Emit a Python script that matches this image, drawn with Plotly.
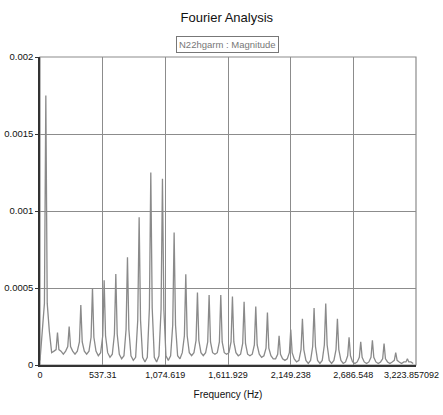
import plotly.graph_objects as go

# Harmonic peak frequencies (Hz) and magnitudes
peak_freq = [50, 150, 250, 350, 450, 550, 650, 750, 850, 950, 1050, 1150, 1250, 1350,
             1450, 1550, 1650, 1750, 1850, 1950, 2050, 2150, 2250, 2350, 2450, 2550,
             2650, 2750, 2850, 2950, 3050, 3150]
peak_mag = [0.00175, 0.00021, 0.00025, 0.00039, 0.00050, 0.00055, 0.00059, 0.00070,
            0.00096, 0.00125, 0.00121, 0.00086, 0.00059, 0.00047, 0.000455, 0.000455,
            0.000445, 0.00041, 0.00038, 0.00034, 0.00019, 0.00023, 0.00030, 0.00037,
            0.00040, 0.00030, 0.00018, 0.00015, 0.00016, 0.00014, 0.00008, 0.00004]
# magnitude at the shoulders of each peak (about 12 Hz either side)
shoulder_mag = [0.00040, 0.00010, 0.00012, 0.00015, 0.00018, 0.00019, 0.00020, 0.00023,
                0.00029, 0.00037, 0.00036, 0.00026, 0.00019, 0.00016, 0.00015, 0.00015,
                0.00015, 0.00014, 0.00013, 0.00011, 0.00007, 0.00008, 0.00010, 0.00012,
                0.00013, 0.00010, 0.00006, 0.00005, 0.00005, 0.00004, 0.00003, 0.00002]
# magnitude at the foot of each peak (about 30 Hz either side)
foot_mag = [0.00022, 0.00009, 0.00009, 0.00009, 0.00009, 0.00008, 0.00007, 0.00006,
            0.00005, 0.00005, 0.00006, 0.00006, 0.00008, 0.00008, 0.00008, 0.00008,
            0.00008, 0.00007, 0.00007, 0.00006, 0.00004, 0.00004, 0.00003, 0.00003,
            0.00003, 0.00003, 0.00002, 0.00002, 0.00002, 0.00002, 0.00002, 0.00002]
# magnitude of the valley following each peak (midway to next harmonic)
valley_mag = [0.00008, 0.00007, 0.00007, 0.00007, 0.00006, 0.00005, 0.00004, 0.00003,
              0.00002, 0.00002, 0.00003, 0.00004, 0.00006, 0.00006, 0.00007, 0.00007,
              0.00006, 0.00006, 0.00005, 0.00004, 0.00003, 0.00002, 0.00001, 0.00001,
              0.00001, 0.00001, 0.00001, 0.00001, 0.00001, 0.00001, 0.00001, 0.00001]
start_mag = 0.00003

x_tickvals = [0, 537.31, 1074.619, 1611.929, 2149.238, 2686.548, 3223.857092]
x_ticktext = ["0", "537.31", "1,074.619", "1,611.929", "2,149.238", "2,686.548", "3,223.857092"]
y_tickvals = [0, 0.0005, 0.001, 0.0015, 0.002]
y_ticktext = ["0", "0.0005", "0.001", "0.0015", "0.002"]

xs = [0]
ys = [start_mag]
for i, (f, p, s, ft, v) in enumerate(zip(peak_freq, peak_mag, shoulder_mag, foot_mag, valley_mag)):
    if i > 0:
        xs.append(f - 30)
        ys.append(ft)
    xs += [f - 12, f, f + 12, f + 30, min(f + 50, x_tickvals[-1])]
    ys += [s, p, s, ft, v]

fig = go.Figure()
fig.add_trace(go.Scatter(x=xs, y=ys, mode="lines",
                         line=dict(color="#8a8a8a", width=1.3), showlegend=False,
                         hoverinfo="skip"))

font = "Liberation Sans, Arial, sans-serif"
# last tick label is drawn right-aligned to the page edge (as in the reference)
shown_ticktext = x_ticktext[:-1] + [""]
fig.update_layout(
    width=443, height=415,
    margin=dict(l=40, r=27, t=57, b=50),
    paper_bgcolor="white", plot_bgcolor="white",
    title=dict(text="Fourier Analysis", x=0.512, xanchor="center", y=0.957, yanchor="middle",
               font=dict(family=font, size=13, color="#111")),
    font=dict(family=font, size=10, color="#111"),
    xaxis=dict(range=[0, 3223.857092], tickmode="array", tickvals=x_tickvals,
               ticktext=shown_ticktext, showgrid=True, gridcolor="#8c8c8c", gridwidth=1.2,
               showline=True, linecolor="#333", linewidth=1.5, mirror=False,
               ticks="", zeroline=False, automargin=False,
               title=dict(text="Frequency (Hz)", font=dict(family=font, size=10, color="#111"),
                          standoff=12),
               tickfont=dict(family=font, size=9, color="#111")),
    yaxis=dict(range=[0, 0.002], tickmode="array", tickvals=y_tickvals,
               ticktext=y_ticktext, showgrid=True, gridcolor="#8c8c8c", gridwidth=1.2,
               showline=True, linecolor="#333", linewidth=1.5, automargin=False,
               ticks="outside", ticklen=3, tickcolor="#333", zeroline=False,
               tickfont=dict(family=font, size=9.5, color="#111")),
    annotations=[
        dict(text="N22hgarm : Magnitude", xref="paper", yref="paper",
             x=0.498, y=1.0, xanchor="center", yanchor="bottom", yshift=4,
             showarrow=False, font=dict(family=font, size=9.5, color="#777"),
             bordercolor="#777", borderwidth=1, borderpad=2, bgcolor="white"),
        dict(text=x_ticktext[-1], xref="paper", yref="paper",
             x=(441 - 40) / 376, y=0, xanchor="right", yanchor="top", yshift=-3,
             showarrow=False, font=dict(family=font, size=9, color="#111")),
    ],
    shapes=[dict(type="rect", xref="paper", yref="paper", x0=0, y0=0, x1=1, y1=1,
                 line=dict(color="#8c8c8c", width=1.2), layer="below")],
)

fig.write_html("out.html")
